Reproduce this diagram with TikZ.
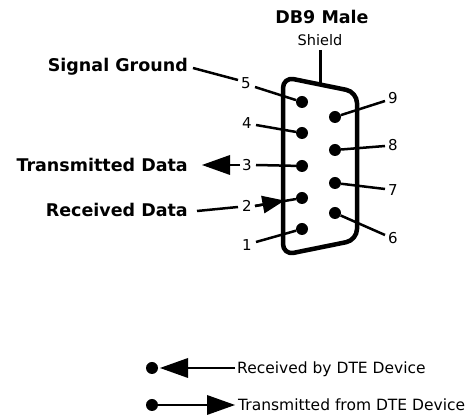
\documentclass[tikz,border=0pt]{standalone}
\usepackage{fontspec}
\setmainfont{DejaVu Sans}
\usetikzlibrary{arrows.meta,calc}
\begin{document}
\begin{tikzpicture}[x=1pt,y=-1pt,
  lbl/.style={font=\fontsize{17.5}{20}\selectfont\bfseries, inner sep=0pt},
  num/.style={font=\fontsize{15}{17}\selectfont, inner sep=0pt},
  legtext/.style={font=\fontsize{15.5}{18}\selectfont, inner sep=0pt, anchor=west},
  pin/.style={circle, fill=black, inner sep=0pt, minimum size=12pt},
  lead/.style={line width=2.5pt},
  bigarrow/.style={line width=2.5pt, -{Triangle[length=28pt,width=20pt,line width=0pt]}},
  smallarrow/.style={line width=2.5pt, -{Triangle[length=22pt,width=18pt,line width=0pt]}},
  shell/.style={line width=4.5pt, rounded corners=11pt, line join=round}]
\useasboundingbox (0,0) rectangle (472,419);
\fill[white] (0,0) rectangle (472,419);

% titles
\node[lbl] (title) at (322,17) {DB9 Male};
\node[font=\fontsize{14.5}{16}\selectfont, inner sep=0pt] (shield) at (320,40) {Shield};

% connector shell
\draw[shell] (283,77) -- (357,92) -- (357,240) -- (283,255) -- cycle;
\coordinate (shtop) at (320,50);
\coordinate (shbot) at (320,83);
\draw[line width=3pt] (shtop) -- (shbot);

% pins
\node[pin] (p5) at (302,102) {};
\node[pin] (p4) at (302,133) {};
\node[pin] (p3) at (302,166) {};
\node[pin] (p2) at (302,198) {};
\node[pin] (p1) at (302,229) {};
\node[pin] (p9) at (335,117) {};
\node[pin] (p8) at (335,150) {};
\node[pin] (p7) at (335,183) {};
\node[pin] (p6) at (335,213) {};

% pin numbers
\node[num] (n5) at (246,83) {5};
\node[num] (n4) at (247,123) {4};
\node[num] (n3) at (247,165) {3};
\node[num] (n2) at (247,206) {2};
\node[num] (n1) at (247,245) {1};
\node[num] (n9) at (393,98) {9};
\node[num] (n8) at (393,145) {8};
\node[num] (n7) at (393,190) {7};
\node[num] (n6) at (393,238) {6};

% leaders
\draw[lead] ($(n5)+(9,4)$) -- (p5);
\draw[lead] ($(n4)+(9,2)$) -- (p4);
\draw[lead] ($(n3)+(9,0)$) -- (p3);
\draw[lead] ($(n2)+(8,0)$) -- (p2);
\draw[lead] ($(n1)+(9,-3)$) -- (p1);
\draw[lead] (p9) -- ($(n9)+(-8,3)$);
\draw[lead] (p8) -- ($(n8)+(-8,1)$);
\draw[lead] (p7) -- ($(n7)+(-8,-1)$);
\draw[lead] (p6) -- ($(n6)+(-8,-3)$);
\coordinate (a2) at ($(n2)!0.68!(p2)$);
\draw[smallarrow] ($(n2)+(8,0)$) -- (a2);

% left labels
\node[lbl, anchor=east] (sg) at (188,67) {Signal Ground};
\node[lbl, anchor=east] (td) at (188,165) {Transmitted Data};
\node[lbl, anchor=east] (rd) at (188,210) {Received Data};
\draw[lead] ($(sg.east)+(5,1)$) -- ($(n5)+(-8,-3)$);
\coordinate (tdtip) at (202,165);
\draw[bigarrow] ($(n3)+(-7,0)$) -- (tdtip);
\draw[lead] ($(rd.east)+(9,1)$) -- ($(n2)+(-9,1)$);

% legend
\node[pin] (d1) at (152,368) {};
\node[pin] (d2) at (152,405) {};
\node[legtext] (t1) at (237,369) {Received by DTE Device};
\node[legtext] (t2) at (238,405) {Transmitted from DTE Device};
\coordinate (tip1) at (160,368);
\draw[bigarrow] ($(t1.west)+(-2,-1)$) -- (tip1);
\draw[bigarrow] (d2) -- ($(t2.west)+(-3,0)$);
\end{tikzpicture}
\end{document}
